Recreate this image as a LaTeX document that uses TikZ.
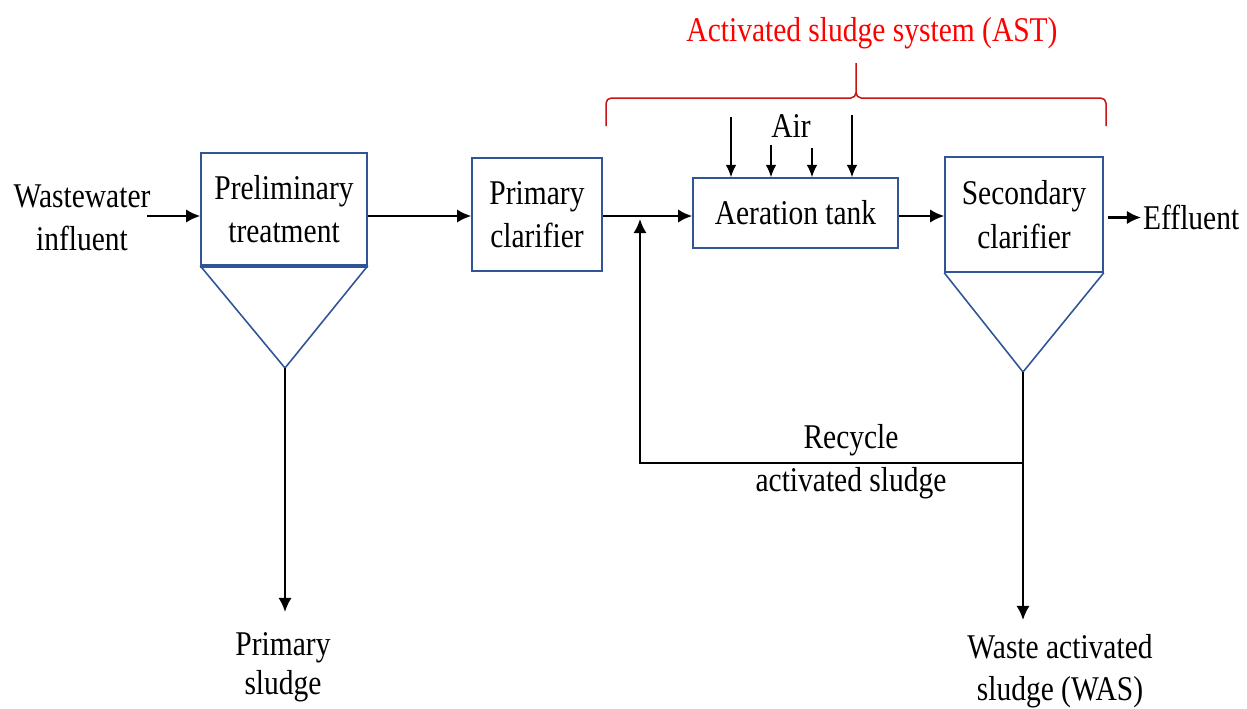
\documentclass[tikz,border=0pt]{standalone}
\usepackage{fontspec}
\setmainfont[FakeStretch=0.85]{Liberation Serif}
\usetikzlibrary{arrows.meta}
\definecolor{boxblue}{RGB}{47,85,151}
\definecolor{astred}{RGB}{255,0,0}
\definecolor{bracered}{RGB}{200,20,20}

\begin{document}
\begin{tikzpicture}[x=0.02cm,y=-0.02cm,
  font=\fontsize{19.75}{24.8}\selectfont,
  unit/.style={draw=boxblue,line width=0.9pt,align=center,inner sep=0pt},
  hopper/.style={draw=boxblue,line width=0.9pt},
  flow/.style={-{Latex[length=8pt,width=7.5pt]},line width=1.2pt},
  air/.style={-{Latex[length=7pt,width=6pt]},line width=0.75pt},
  lbl/.style={align=center,inner sep=1pt}]
\useasboundingbox (0,0) rectangle (1247,708);

% treatment units
\node[unit,minimum width=3.32cm,minimum height=2.24cm] (pre) at (284,209) {Preliminary\\treatment};
\node[unit,minimum width=2.6cm,minimum height=2.26cm] (pri) at (537,214.5) {Primary\\clarifier};
\node[unit,minimum width=4.1cm,minimum height=1.4cm] (aer) at (795.5,213) {Aeration tank};
\node[unit,minimum width=3.16cm,minimum height=2.3cm] (sec) at (1024,214.5) {Secondary\\clarifier};

% hoppers under the settlers
\coordinate (preTip) at (285,368);
\coordinate (secTip) at (1023,372);
\draw[hopper] (pre.south west) -- (preTip) -- (pre.south east);
\draw[boxblue,line width=2.2pt] (pre.south west) -- (pre.south east);
\draw[hopper] (sec.south west) -- (secTip) -- (sec.south east);

% labels
\node[lbl] (ww) at (82,218) {Wastewater\\influent};
\node[lbl,anchor=west] (eff) at (1141,217.5) {Effluent};
\node[lbl,font=\fontsize{19.75}{22.3}\selectfont] (ps) at (283,667) {Primary\\sludge};
\node[lbl,font=\fontsize{19.75}{23.6}\selectfont] (was) at (1060,671) {Waste activated\\sludge (WAS)};
\node[lbl] (ras) at (851,461.5) {Recycle\\activated sludge};
\node[lbl] (air) at (791,126) {Air};
\node[lbl,text=astred] (ast) at (872,33) {Activated sludge system (AST)};

% main line
\coordinate (wwOut) at (147,216);
\draw[flow] (wwOut) -- (wwOut -| pre.west);
\draw[flow] (pre.east |- wwOut) -- (pri.west |- wwOut);
\draw[flow] (pri.east |- wwOut) -- (aer.west |- wwOut);
\draw[flow] (aer.east |- wwOut) -- (sec.west |- wwOut);
\draw[flow,shorten <=0.08cm] (sec.east |- eff.west) -- (eff.west);

% aeration
\foreach \ax/\ay in {731/117,771/145,812/148,852/115}
  \draw[air] (\ax,\ay) -- (\ax,\ay |- aer.north);

% sludge lines
\coordinate (psEnd) at (285,612);
\coordinate (wasEnd) at (1023,620);
\coordinate (rasSplit) at (1023,463);
\coordinate (rasTurn) at (640,463);
\coordinate (rasJoin) at (640,219);
\draw[flow] (preTip) -- (psEnd);
\draw[flow] (secTip) -- (wasEnd);
\draw[flow] (rasSplit) -- (rasTurn) -- (rasJoin);

% brace over the activated sludge part
\draw[bracered,line width=0.85pt,rounded corners=3pt]
  (606,126) -- (606,98) -- (856,98) -- (856,63)
  (1106,126) -- (1106,98) -- (856,98) -- (856,63);
\end{tikzpicture}
\end{document}
